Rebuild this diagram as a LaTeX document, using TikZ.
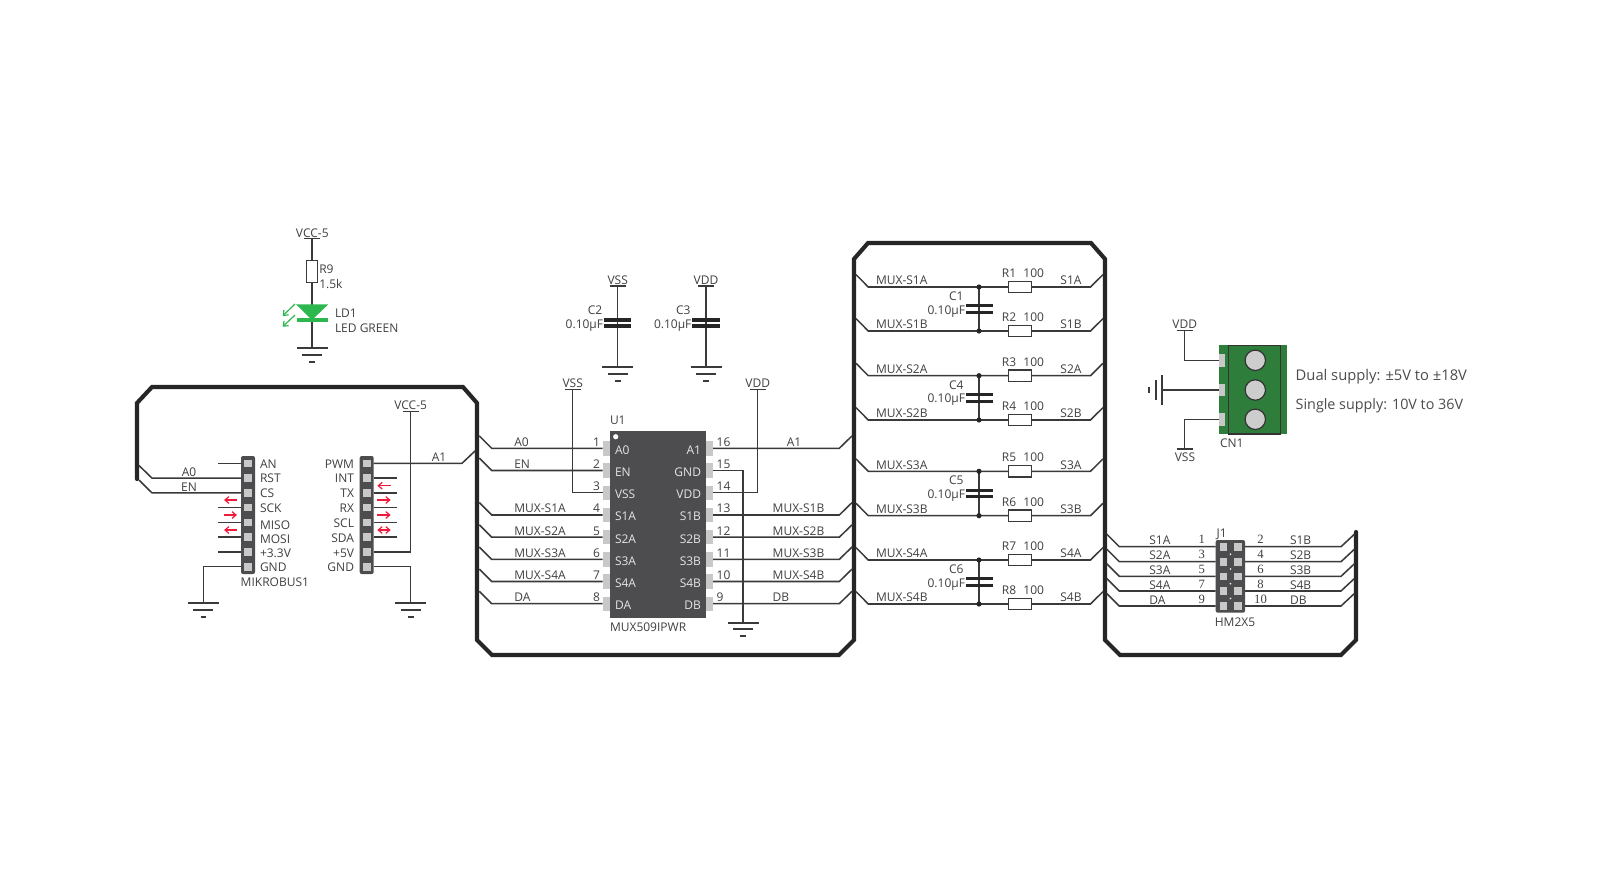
\documentclass[tikz,border=0pt]{standalone}
\usepackage{fontspec}
\setmainfont{Open Sans}
\newfontfamily\numfont{Liberation Serif}
\definecolor{wire}{HTML}{3A3A3A}
\definecolor{chipc}{HTML}{4D4D4F}
\definecolor{padc}{HTML}{C8C8C8}
\definecolor{txt}{HTML}{404040}
\definecolor{redarr}{HTML}{EE1C3A}
\definecolor{ledg}{HTML}{2DB84F}
\definecolor{cng}{HTML}{2F7D3B}
\usetikzlibrary{arrows.meta}
\tikzset{
  x=0.75pt,y=-0.75pt,
  wr/.style={draw=wire,line width=1.15pt,line join=miter},
  gb/.style={draw=wire,line width=1.45pt},
  frameline/.style={draw=black!85,line width=3.1pt,line join=miter,line cap=round},
  lbl/.style={font=\fontsize{9pt}{10pt}\selectfont,text=txt,inner sep=0pt,outer sep=0pt,text height=6.4pt,text depth=0pt,yshift=-0.45pt},
  lab/.style={lbl,anchor=center},
  labl/.style={lbl,anchor=west},
  labr/.style={lbl,anchor=east},
  numl/.style={text=txt,inner sep=0pt,anchor=center,text height=6.2pt,text depth=0pt},
  chipt/.style={lbl,text=white!90!black},
  arr/.style={draw=redarr,line width=0.9pt},
  dotn/.style={circle,fill=black!85,inner sep=0pt,minimum size=3.9pt},
  plate/.style={draw=black!85,line width=2.4pt},
  bigt/.style={labl,text=black!70,text height=7.7pt},
}
\newcommand{\gnd}[2]{%
  \draw[gb] (#1-15.5,#2) -- (#1+15.5,#2);
  \draw[gb] (#1-10,#2+6.5) -- (#1+10,#2+6.5);
  \draw[gb] (#1-2.8,#2+13.4) -- (#1+2.8,#2+13.4);
}
\newcommand{\sqpin}[2]{\fill[padc] (#1-3.8,#2-3.8) rectangle (#1+3.8,#2+3.8);}
\begin{document}
\begin{tikzpicture}
\useasboundingbox (0,0) rectangle (1599,871);
\fill[white] (0,0) rectangle (1599,871);
% big frame
\draw[frameline] (137,479) -- (137,403) -- (152,387) -- (463,387) -- (477,403) -- (477,640) -- (492,655)
  -- (839,655) -- (854,640) -- (854,259) -- (868,243) -- (1091,243) -- (1105,259) -- (1105,640) -- (1120,655)
  -- (1341,655) -- (1356,640) -- (1356,532);

% mikroBUS headers
\fill[chipc,rounded corners=1.5pt] (241,456) rectangle (255,574);
\fill[chipc,rounded corners=1.5pt] (359.7,456) rectangle (373.7,574);
\foreach \yy in {463.3,478.1,492.9,507.6,522.4,537.2,552,566.7}{
  \sqpin{248}{\yy}
  \sqpin{366.7}{\yy}
}
\foreach \yy/\tt in {463.3/AN,478.1/RST,493/CS,507.6/SCK,524.2/MISO,539/MOSI,552.5/+3.3V,566.9/GND}{
  \node[labl] at (260,\yy) {\tt};
}
\foreach \yy/\tt in {463.3/PWM,478.1/INT,493/TX,507.6/RX,523.1/SCL,537.7/SDA,552.5/+5V,566.9/GND}{
  \node[labr] at (354,\yy) {\tt};
}
\foreach \yy in {463.3,507.6,522.4,537.2,552}{\draw[wr] (218,\yy) -- (241,\yy);}
\foreach \yy in {478.1,492.9,507.6,522.4,537.2}{\draw[wr] (373.7,\yy) -- (397,\yy);}
\node[labl] at (240.7,582) {MIKROBUS1};
\draw[wr] (139,465.5) -- (152,478.1) -- (241,478.1);
\draw[wr] (139,480) -- (152,492.9) -- (241,492.9);
\node[lab] at (189,472) {A0};
\node[lab] at (189,486.5) {EN};
% arrows
\draw[arr,-{Straight Barb[length=3pt,width=5pt]}] (237,500) -- (224,500);
\draw[arr,-{Straight Barb[length=3pt,width=5pt]}] (224,515) -- (237,515);
\draw[arr,-{Straight Barb[length=3pt,width=5pt]}] (237,530) -- (224,530);
\draw[arr,-{Straight Barb[length=3pt,width=5pt]}] (390.7,485.7) -- (377.3,485.7);
\draw[arr,-{Straight Barb[length=3pt,width=5pt]}] (377.3,500) -- (390.7,500);
\draw[arr,-{Straight Barb[length=3pt,width=5pt]}] (377.3,515) -- (390.7,515);
\draw[arr,{Straight Barb[length=3pt,width=5pt]}-{Straight Barb[length=3pt,width=5pt]}] (377.3,530) -- (390.7,530);
% VCC-5 on bus
\node[lab] at (410.7,404.5) {VCC-5};
\draw[wr] (403,411.7) -- (418.5,411.7);
\draw[wr] (410.7,411.7) -- (410.7,552) -- (373.7,552);
\draw[wr] (373.7,463.3) -- (462,463.3) -- (475,451);
\node[lab] at (439,457) {A1};
\draw[wr] (241,566.7) -- (203.3,566.7) -- (203.3,603.3);
\gnd{203.3}{603.3}
\draw[wr] (373.7,566.7) -- (410.7,566.7) -- (410.7,603.3);
\gnd{410.7}{603.3}

% LED
\node[lab] at (312.3,232.5) {VCC-5};
\draw[wr] (304.3,238.7) -- (320.3,238.7);
\draw[wr] (312,238.7) -- (312,348.3);
\draw[wr,fill=white] (306.3,260.7) rectangle (317.7,282.7);
\fill[ledg] (296,304.3) -- (328.3,304.3) -- (312,320) -- cycle;
\draw[ledg,line width=2.3pt] (296.5,320) -- (328,320);
\draw[ledg,line width=0.9pt,-{Straight Barb[length=3pt,width=5pt]}] (295,304) -- (282.7,316);
\draw[ledg,line width=0.9pt,-{Straight Barb[length=3pt,width=5pt]}] (295,315) -- (282.7,326.7);
\gnd{312}{348.3}
\node[labl] at (319.3,269) {R9};
\node[labl] at (319.3,284) {1.5k};
\node[labl] at (335,312.7) {LD1};
\node[labl] at (335,327.7) {LED GREEN};

% C2 C3
\foreach \xx/\nm/\cn in {617.7/VSS/C2,706/VDD/C3}{
  \node[lab] at (\xx,280) {\nm};
  \draw[wr] (\xx-8,286) -- (\xx+8,286);
  \draw[wr] (\xx,286) -- (\xx,367.3);
  \draw[plate] (\xx-14,320) -- (\xx+13.5,320);
  \draw[plate] (\xx-14,326) -- (\xx+13.5,326);
  \node[lab] at (\xx-22.7,309.3) {\cn};
  \node[labr] at (\xx-14.6,323.3) {0.10µF};
  \gnd{\xx}{367.3}
}

% U1
\foreach \yy in {448.3,470.5,492.7,515,537.2,559.4,581.5,603.7}{
  \fill[padc] (602.7,\yy-7.2) rectangle (610,\yy+7.2);
  \fill[padc] (705.7,\yy-7.2) rectangle (713,\yy+7.2);
}
\fill[chipc] (610,431) rectangle (705.7,617.7);
\fill[white] (615.7,436.7) circle[radius=2.6];
\node[labl] at (610,420) {U1};
\node[labl] at (610,626.7) {MUX509IPWR};
\foreach \yy/\tt/\num in {448.3/A0/1,470.5/EN/2,492.7/VSS/3,515/S1A/4,537.2/S2A/5,559.4/S3A/6,581.5/S4A/7,603.7/DA/8}{
  \node[chipt,anchor=west] at (615,\yy+1) {\tt};
  \node[labr] at (600,\yy-7) {\num};
}
\foreach \yy/\tt/\num in {448.3/A1/16,470.5/GND/15,492.7/VDD/14,515/S1B/13,537.2/S2B/12,559.4/S3B/11,581.5/S4B/10,603.7/DB/9}{
  \node[chipt,anchor=east] at (701,\yy+1) {\tt};
  \node[labl] at (716.7,\yy-7) {\num};
}
% left wires of U1
\foreach \yy/\tt in {448.3/A0,470.5/EN,515/MUX-S1A,537.2/MUX-S2A,559.4/MUX-S3A,581.5/MUX-S4A,603.7/DA}{
  \draw[wr] (479.3,\yy-12.4) -- (491.7,\yy) -- (602.7,\yy);
  \node[labl] at (514.3,\yy-7) {\tt};
}
% right wires of U1
\foreach \yy/\tt in {515/MUX-S1B,537.2/MUX-S2B,559.4/MUX-S3B,581.5/MUX-S4B,603.7/DB}{
  \draw[wr] (713,\yy) -- (839.3,\yy) -- (852,\yy-12.4);
  \node[labl] at (772.7,\yy-7) {\tt};
}
\draw[wr] (713,448.3) -- (839.3,448.3) -- (852,435.9);
\node[lab] at (794,441.3) {A1};
% VSS/VDD/GND
\node[lab] at (572.7,382.5) {VSS};
\draw[wr] (564.7,389.7) -- (580.7,389.7);
\draw[wr] (572.7,389.7) -- (572.7,492.7) -- (602.7,492.7);
\node[lab] at (757.7,382.5) {VDD};
\draw[wr] (749.7,389.7) -- (765.7,389.7);
\draw[wr] (757.7,389.7) -- (757.7,492.7) -- (713,492.7);
\draw[wr] (713,470.5) -- (743,470.5) -- (743,622.7);
\gnd{743}{622.7}

% R/C block
\foreach \yy/\ma/\rr/\sa in {287/MUX-S1A/R1/S1A,331/MUX-S1B/R2/S1B,375.7/MUX-S2A/R3/S2A,420/MUX-S2B/R4/S2B,471.3/MUX-S3A/R5/S3A,515.7/MUX-S3B/R6/S3B,560/MUX-S4A/R7/S4A,604/MUX-S4B/R8/S4B}{
  \draw[wr] (856,\yy-12.4) -- (868.3,\yy) -- (1090.5,\yy) -- (1103,\yy-12.4);
  \draw[wr,fill=white] (1008.3,\yy-5.6) rectangle (1031.3,\yy+5.6);
  \node[labl] at (876,\yy-7) {\ma};
  \node[lab] at (1009,\yy-14.3) {\rr};
  \node[lab] at (1033.7,\yy-14.3) {100};
  \node[lab] at (1071,\yy-7) {\sa};
}
\foreach \ya/\yb/\cn in {287/331/C1,375.7/420/C4,471.3/515.7/C5,560/604/C6}{
  \draw[wr] (979,\ya) -- (979,\yb);
  \node[dotn] at (979,\ya) {};
  \node[dotn] at (979,\yb) {};
  \draw[plate] (966,{(\ya+\yb)/2-3.3}) -- (993.3,{(\ya+\yb)/2-3.3});
  \draw[plate] (966,{(\ya+\yb)/2+3.3}) -- (993.3,{(\ya+\yb)/2+3.3});
  \node[lab] at (956.3,{(\ya+\yb)/2-13.7}) {\cn};
  \node[labr] at (965,{(\ya+\yb)/2+.2}) {0.10µF};
}

% J1
\foreach \yy/\la/\na/\nb/\lb in {546.7/S1A/1/2/S1B,561.7/S2A/3/4/S2B,576.3/S3A/5/6/S3B,591/S4A/7/8/S4B,606/DA/9/10/DB}{
  \draw[wr] (1106.7,\yy-12.6) -- (1119.3,\yy) -- (1215.7,\yy);
  \draw[wr] (1245,\yy) -- (1341,\yy) -- (1354.5,\yy-12.6);
  \node[labl] at (1149.3,\yy-6.7) {\la};
  \node[labl] at (1290,\yy-6.7) {\lb};
  \node[numl,font=\numfont\fontsize{9.5pt}{10pt}\selectfont] at (1201.7,\yy-7) {\na};
  \node[numl,font=\numfont\fontsize{9.5pt}{10pt}\selectfont] at (1260.5,\yy-7) {\nb};
}
\fill[chipc,rounded corners=1.5pt] (1215.7,540) rectangle (1245,612.7);
\foreach \yy in {546.7,561.7,576.3,591,606}{
  \sqpin{1223.3}{\yy}
  \sqpin{1237.7}{\yy}
}
\foreach \yy in {554.2,569,583.7,598.5}{
  \fill[white] (1230.4,\yy) circle[radius=0.9];
}
\node[lab] at (1221.7,532.7) {J1};
\node[lab] at (1235,621.7) {HM2X5};

% CN1
\fill[cng] (1219.3,345) rectangle (1287.3,434.3);
\draw[draw=black!80,line width=0.9pt] (1228.7,345.4) rectangle (1280.7,433.9);
\foreach \yy in {360.3,390,419.3}{
  \fill[padc] (1219.3,\yy-6.2) rectangle (1225,\yy+6.2);
  \draw[draw=black!80,fill=padc!90!white,line width=0.9pt] (1255.3,\yy) circle[radius=10.2];
}
\node[lab] at (1184.7,324) {VDD};
\draw[wr] (1176.7,330.7) -- (1192.7,330.7);
\draw[wr] (1184.7,330.7) -- (1184.7,360.3) -- (1219.3,360.3);
\draw[wr] (1219.3,390) -- (1162.3,390);
\draw[gb] (1162.3,375) -- (1162.3,405);
\draw[gb] (1156,380) -- (1156,400);
\draw[gb] (1149.3,387) -- (1149.3,393);
\draw[wr] (1219.3,419.3) -- (1184.7,419.3) -- (1184.7,449);
\draw[wr] (1176.7,449) -- (1192.7,449);
\node[lab] at (1185,457) {VSS};
\node[labl] at (1220,442.5) {CN1};
\node[bigt,font=\fontsize{11.05pt}{12pt}\selectfont] at (1295.7,374.7) {Dual supply: ±5V to ±18V};
\node[bigt,font=\fontsize{10.75pt}{12pt}\selectfont] at (1295.7,404) {Single supply: 10V to 36V};
\end{tikzpicture}
\end{document}
